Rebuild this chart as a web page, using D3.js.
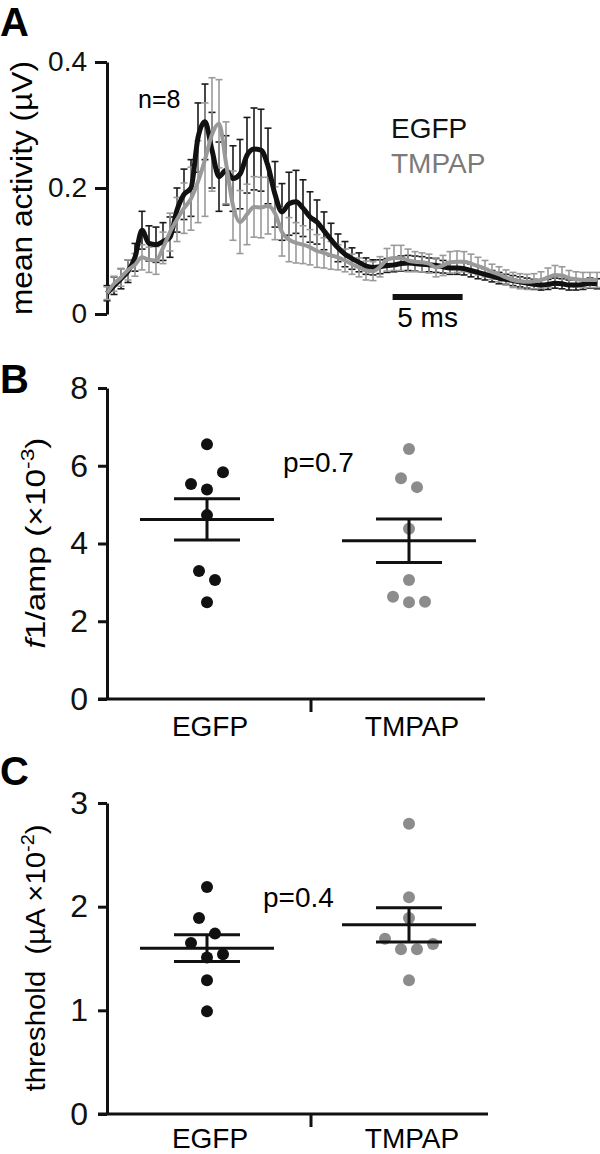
<!DOCTYPE html>
<html>
<head>
<meta charset="utf-8">
<title>EGFP vs TMPAP</title>
<script src="https://d3js.org/d3.v7.min.js"></script>
<style>
  body { margin: 0; background: #fff; }
  svg text { font-family: "Liberation Sans", Arial, sans-serif; }
</style>
</head>
<body>
<div id="fig"></div>
<script>
// ---------- data ----------
const groups = ["EGFP", "TMPAP"];
const dtMs = 0.5; // sampling of the averaged traces

// panel A: mean activity (uV), one value per 0.5 ms
const egfpMean = [
  0.033,0.045,0.056,0.068,0.09,0.133,0.112,0.11,0.115,0.122,
  0.165,0.19,0.2,0.28,0.305,0.26,0.218,0.228,0.215,0.222,
  0.252,0.262,0.26,0.235,0.19,0.162,0.175,0.178,0.168,0.154,
  0.146,0.132,0.118,0.105,0.095,0.088,0.082,0.076,0.074,0.075,
  0.077,0.078,0.08,0.081,0.08,0.079,0.078,0.077,0.075,0.073,
  0.073,0.072,0.069,0.066,0.063,0.06,0.057,0.055,0.053,0.051,
  0.049,0.047,0.046,0.047,0.049,0.048,0.046,0.046,0.047,0.049,
  0.048];
const egfpSem = [
  0.012,0.014,0.016,0.018,0.022,0.03,0.028,0.028,0.03,0.032,
  0.035,0.04,0.045,0.055,0.06,0.06,0.055,0.055,0.052,0.055,
  0.06,0.065,0.065,0.06,0.052,0.045,0.05,0.05,0.045,0.04,
  0.035,0.03,0.026,0.022,0.02,0.017,0.015,0.013,0.012,0.011,
  0.011,0.011,0.012,0.012,0.012,0.012,0.011,0.011,0.01,0.01,
  0.01,0.01,0.01,0.01,0.009,0.009,0.009,0.008,0.008,0.008,
  0.008,0.008,0.008,0.008,0.008,0.008,0.008,0.008,0.008,0.008,
  0.008];
const tmpapMean = [
  0.033,0.048,0.058,0.07,0.078,0.09,0.086,0.085,0.105,0.13,
  0.15,0.168,0.183,0.21,0.245,0.285,0.302,0.24,0.172,0.146,
  0.158,0.17,0.169,0.172,0.16,0.13,0.118,0.113,0.11,0.106,
  0.1,0.097,0.093,0.09,0.085,0.079,0.074,0.069,0.068,0.075,
  0.086,0.089,0.089,0.085,0.083,0.082,0.08,0.074,0.077,0.082,
  0.083,0.083,0.08,0.076,0.072,0.067,0.063,0.058,0.054,0.052,
  0.051,0.052,0.054,0.058,0.062,0.061,0.057,0.055,0.054,0.054,
  0.054];
const tmpapSem = [
  0.01,0.012,0.014,0.016,0.018,0.02,0.02,0.022,0.025,0.03,
  0.035,0.04,0.05,0.065,0.09,0.09,0.07,0.065,0.055,0.05,
  0.048,0.048,0.048,0.045,0.042,0.038,0.035,0.032,0.03,0.028,
  0.026,0.024,0.022,0.02,0.018,0.016,0.015,0.015,0.015,0.016,
  0.018,0.02,0.02,0.018,0.016,0.015,0.015,0.015,0.016,0.017,
  0.017,0.016,0.015,0.014,0.013,0.012,0.012,0.012,0.012,0.012,
  0.012,0.012,0.013,0.015,0.015,0.014,0.012,0.012,0.012,0.012,
  0.012];
const activityTicks = [0, 0.2, 0.4];

// panel B: f1/amp (x10^-3)
const f1Egfp  = [6.55, 5.53, 5.39, 5.83, 4.73, 3.29, 3.06, 2.49];
const f1Tmpap = [6.43, 5.68, 5.45, 4.38, 3.06, 2.63, 2.49, 2.50];
const f1Means = [4.62, 4.07];
const f1Sems  = [0.53, 0.56];
const f1Ticks = [0, 2, 4, 6, 8];

// panel C: threshold (uA x10^-2)
const thrEgfp  = [2.19, 1.89, 1.74, 1.65, 1.51, 1.54, 1.29, 0.99];
const thrTmpap = [2.80, 2.09, 1.89, 1.69, 1.59, 1.59, 1.64, 1.29];
const thrMeans = [1.60, 1.825];
const thrSems  = [0.13, 0.165];
const thrTicks = [0, 1, 2, 3];

// ---------- figure ----------
const W = 600, H = 1154;
const black = "#111", grey = "#999", dotGrey = "#8c8c8c";

const svg = d3.select("#fig").append("svg")
    .attr("width", W).attr("height", H);

function panelLetter(t, y) {
    svg.append("text").attr("x", 0).attr("y", y)
        .attr("font-size", 40).attr("font-weight", "bold").text(t);
}

// rotated axis title, stretched to the length it has in the figure
function yLabel(x, yc, size, len, build) {
    const t = svg.append("text")
        .attr("transform", `translate(${x},${yc}) rotate(-90)`)
        .attr("text-anchor", "middle").attr("font-size", size)
        .style("white-space", "pre")
        .attr("textLength", len).attr("lengthAdjust", "spacingAndGlyphs");
    build(t);
}

function styleAxis(g, fs) {
    g.select(".domain").attr("stroke", black).attr("stroke-width", 3);
    g.selectAll(".tick line").attr("stroke", black).attr("stroke-width", 3);
    g.selectAll(".tick text").attr("fill", black).attr("font-size", fs)
        .attr("font-family", '"Liberation Sans", Arial, sans-serif');
}

// ===== Panel A =====
panelLetter("A", 36);

const xA = d3.scaleLinear().domain([0, 35]).range([107, 597]);
const yA = d3.scaleLinear().domain([0, 0.4]).range([314, 62]);

const gAy = svg.append("g").attr("transform", "translate(107,0)")
    .call(d3.axisLeft(yA).tickValues(activityTicks)
        .tickFormat(d => d === 0 ? "0" : d3.format(".1f")(d))
        .tickSize(12).tickSizeOuter(0).tickPadding(8));
styleAxis(gAy, 28);

yLabel(32, 188, 29, 254, t => t.text("mean activity (µV)"));

const traces = [
    { mean: egfpMean, sem: egfpSem, color: black, bar: "#1a1a1a", width: 5 },
    { mean: tmpapMean, sem: tmpapSem, color: grey, bar: "#9a9a9a", width: 4 }
];

traces.forEach(s => {
    const g = svg.append("g").attr("stroke", s.bar).attr("stroke-width", 1.6).attr("fill", "none");
    s.mean.forEach((m, i) => {
        const x = xA(i * dtMs), y1 = yA(m + s.sem[i]), y0 = yA(m - s.sem[i]);
        g.append("line").attr("x1", x).attr("x2", x).attr("y1", y1).attr("y2", y0);
        g.append("line").attr("x1", x - 3.5).attr("x2", x + 3.5).attr("y1", y1).attr("y2", y1);
        g.append("line").attr("x1", x - 3.5).attr("x2", x + 3.5).attr("y1", y0).attr("y2", y0);
    });
});

const lineA = d3.line().x((d, i) => xA(i * dtMs)).y(d => yA(d)).curve(d3.curveMonotoneX);
traces.forEach(s => {
    svg.append("path").datum(s.mean).attr("d", lineA)
        .attr("fill", "none").attr("stroke", s.color)
        .attr("stroke-width", s.width).attr("stroke-linejoin", "round");
});

svg.append("text").attr("x", 138).attr("y", 108).attr("font-size", 25).text("n=8");
svg.append("text").attr("x", 391).attr("y", 138).attr("font-size", 28).attr("fill", black).text(groups[0]);
svg.append("text").attr("x", 391).attr("y", 173).attr("font-size", 28).attr("fill", "#7a7a7a").text(groups[1]);

// 5 ms scale bar
const barStart = 20.4;
svg.append("line").attr("x1", xA(barStart)).attr("x2", xA(barStart + 5))
    .attr("y1", 297).attr("y2", 297).attr("stroke", black).attr("stroke-width", 6);
svg.append("text").attr("x", xA(barStart + 2.5)).attr("y", 327)
    .attr("text-anchor", "middle").attr("font-size", 28).text("5 ms");

// ===== dot plots =====
function swarm(vals, start, width, step) {
    const pts = vals.map((v, i) => ({ v, i }));
    const bins = d3.group(pts, d => Math.floor((d.v - start) / width));
    const off = new Array(vals.length);
    for (const [, b] of bins) b.forEach((p, k) => off[p.i] = (k - (b.length - 1) / 2) * step);
    return off;
}

function dotPanel(o) {
    const y = d3.scaleLinear().domain(o.domain).range(o.range);
    const x = d3.scalePoint().domain(groups).range([207, 409]);
    const base = o.range[0];

    const gy = svg.append("g").attr("transform", "translate(107,0)")
        .call(d3.axisLeft(y).tickValues(o.ticks).tickFormat(d3.format("d"))
            .tickSize(9).tickSizeOuter(0).tickPadding(10));
    styleAxis(gy, 32);

    // x baseline + centre tick
    const mid = (x(groups[0]) + x(groups[1])) / 2 + 3;
    svg.append("line").attr("x1", 98).attr("x2", o.xEnd).attr("y1", base).attr("y2", base)
        .attr("stroke", black).attr("stroke-width", 3);
    svg.append("line").attr("x1", mid).attr("x2", mid).attr("y1", base).attr("y2", base + 13)
        .attr("stroke", black).attr("stroke-width", 3);

    groups.forEach(gname => {
        svg.append("text").attr("x", x(gname) + 3).attr("y", base + o.labelDy)
            .attr("text-anchor", "middle").attr("font-size", 28).text(gname);
    });

    // dots
    o.values.forEach((vals, gi) => {
        const off = swarm(vals, o.binStart, o.binWidth, 16);
        svg.append("g").selectAll("circle").data(vals).join("circle")
            .attr("cx", (d, i) => x(groups[gi]) + off[i])
            .attr("cy", d => y(d))
            .attr("r", 6)
            .attr("fill", gi === 0 ? black : dotGrey);
    });

    // mean +/- sem
    groups.forEach((gname, gi) => {
        const cx = x(gname), m = o.means[gi], s = o.sems[gi];
        const g = svg.append("g").attr("stroke", black).attr("stroke-width", 3);
        g.append("line").attr("x1", cx - 67).attr("x2", cx + 67).attr("y1", y(m)).attr("y2", y(m));
        g.append("line").attr("x1", cx).attr("x2", cx).attr("y1", y(m + s)).attr("y2", y(m - s));
        [m + s, m - s].forEach(v => g.append("line")
            .attr("x1", cx - 33).attr("x2", cx + 33).attr("y1", y(v)).attr("y2", y(v)));
    });

    svg.append("text").attr("x", o.pX).attr("y", y(o.pY))
        .attr("font-size", 28).text(o.pText);
}

// ===== Panel B =====
panelLetter("B", 393);
dotPanel({
    domain: [0, 8], range: [699, 388], ticks: f1Ticks, xEnd: 485, labelDy: 37,
    values: [f1Egfp, f1Tmpap], means: f1Means, sems: f1Sems,
    binStart: 0.5, binWidth: 0.6, pText: "p=0.7", pX: 283, pY: 5.85
});
yLabel(45, 543, 28, 211, t => {
    t.append("tspan").attr("font-style", "italic").text("f");
    t.append("tspan").text("1/amp (×10");
    t.append("tspan").attr("font-size", 19).attr("dy", -11).text("-3");
    t.append("tspan").attr("dy", 11).text(")");
});

// ===== Panel C =====
panelLetter("C", 785);
dotPanel({
    domain: [0, 3], range: [1114, 803], ticks: thrTicks, xEnd: 488, labelDy: 34,
    values: [thrEgfp, thrTmpap], means: thrMeans, sems: thrSems,
    binStart: 0.1, binWidth: 0.2, pText: "p=0.4", pX: 263, pY: 2.0
});
yLabel(45, 958, 28, 267, t => {
    t.append("tspan").text("threshold  (µA ×10");
    t.append("tspan").attr("font-size", 19).attr("dy", -11).text("-2");
    t.append("tspan").attr("dy", 11).text(")");
});
</script>
</body>
</html>
